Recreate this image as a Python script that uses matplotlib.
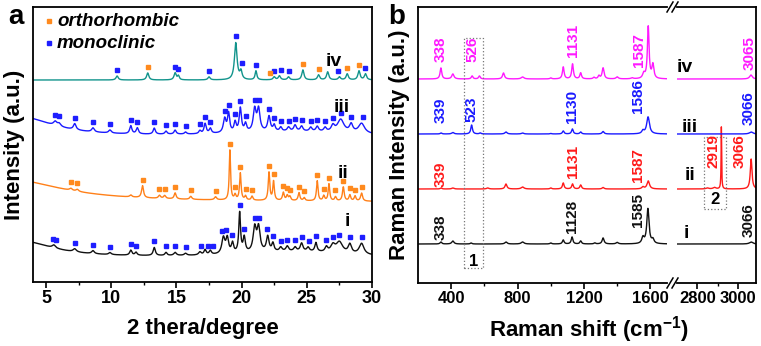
# XRD (a) and Raman (b) figure, four samples i-iv stacked vertically
import numpy as np
import matplotlib
matplotlib.use("Agg")
import matplotlib.pyplot as plt
from matplotlib.lines import Line2D

plt.rcParams["font.family"] = ["Liberation Sans", "DejaVu Sans"]
plt.rcParams["font.weight"] = "bold"
plt.rcParams["axes.labelweight"] = "bold"
plt.rcParams["mathtext.fontset"] = "custom"
plt.rcParams["mathtext.rm"] = "Liberation Sans:bold"
plt.rcParams["mathtext.bf"] = "Liberation Sans:bold"

# ---------------- panel a: XRD peaks (2theta, height, width) ----------------
xrd_i_offset = 24
xrd_i_peaks = [(3.0, 17, 3.0), (24.0, 6, 5.0),
               (5.6, 3, .15), (7.2, 3, .15), (8.6, 3, .12), (9.9, 2, .12), (11.5, 5, .1),
               (11.9, 3, .1), (13.3, 8, .1), (14.2, 3, .1), (14.9, 3, .12), (15.7, 2, .12),
               (16.8, 3, .12), (17.2, 5, .1), (17.6, 4, .1), (18.6, 16, .14), (18.9, 15, .12),
               (19.3, 10, .1), (19.85, 40, .08), (20.2, 15, .1), (21.0, 24, .14), (21.3, 24, .14),
               (22.0, 15, .12), (22.4, 8, .1), (23.0, 4, .12), (23.5, 5, .12), (24.1, 4, .12),
               (24.6, 8, .12), (25.1, 4, .12), (25.7, 9, .1), (26.5, 5, .12), (27.0, 7, .2),
               (27.5, 11, .3), (28.3, 9, .15), (29.2, 11, .22)]

xrd_ii_offset = 80
xrd_ii_peaks = [(2.0, 23, 5.0),
                (6.9, 2, .12), (7.4, 2, .12), (11.5, 2, .1), (12.4, 12, .09), (13.7, 3, .1),
                (14.1, 3, .1), (14.9, 6, .09), (16.1, 3, .1), (18.0, 3, .1), (19.1, 50, .06),
                (19.5, 5, .08), (19.9, 27, .07), (20.3, 4, .08), (20.8, 4, .08), (22.1, 28, .07),
                (22.45, 19, .07), (23.2, 8, .08), (23.5, 5, .08), (23.7, 4, .08), (24.4, 8, .08),
                (24.8, 3, .08), (25.8, 20, .07), (26.3, 5, .08), (26.7, 17, .07), (27.2, 4, .08),
                (27.8, 14, .08), (28.3, 6, .08), (28.7, 5, .08), (29.2, 8, .09)]

xrd_iii_offset = 145
xrd_iii_peaks = [(3.0, 20, 3.0), (24.0, 5, 6.0),
                 (5.7, 4, .15), (6.0, 3, .15), (7.2, 6, .12), (8.6, 4, .12), (9.9, 3, .12),
                 (11.5, 8, .1), (12.0, 6, .1), (13.3, 6, .1), (14.2, 3, .1), (14.9, 4, .1),
                 (15.7, 2, .1), (16.8, 3, .1), (17.2, 10, .1), (17.6, 5, .1), (18.7, 14, .12),
                 (19.0, 19, .1), (19.5, 10, .1), (19.9, 24, .1), (20.3, 8, .1), (21.0, 22, .13),
                 (21.3, 22, .13), (22.1, 15, .12), (22.5, 6, .1), (23.0, 4, .1), (23.6, 4, .12),
                 (24.1, 6, .12), (24.6, 5, .12), (25.3, 4, .12), (25.8, 5, .12), (26.4, 4, .12),
                 (27.0, 6, .15), (27.6, 13, .3), (28.4, 8, .15), (29.2, 10, .28)]

xrd_iv_offset = 202
xrd_iv_peaks = [(10.45, 4, .1), (12.8, 7, .1), (14.9, 7, .1), (15.15, 4, .08), (17.5, 3, .1),
                (19.55, 37, .12), (19.95, 8, .1), (21.1, 9, .08), (22.5, 3, .1), (22.9, 4, .1),
                (23.6, 3, .1), (24.7, 10, .1), (25.9, 5, .1), (26.6, 8, .1), (27.5, 3, .1),
                (28.1, 6, .1), (29.0, 9, .1), (29.5, 6, .1)]

# phase markers (2theta)
xrd_i_mono = [5.5, 5.8, 7.2, 8.6, 9.9, 11.5, 11.9, 13.3, 14.2, 14.9, 15.7, 16.9, 17.4, 17.8,
              18.5, 18.8, 19.3, 19.85, 20.2, 21.0, 21.3, 21.95, 22.4, 23.0, 23.5, 24.1, 24.6,
              25.2, 25.7, 26.5, 27.0, 27.5, 28.3, 29.2]
xrd_ii_ortho = [6.9, 7.4, 12.4, 13.7, 14.1, 14.9, 16.1, 18.0, 19.1, 19.5, 19.9, 20.3, 20.8,
                22.1, 22.45, 23.2, 23.5, 23.7, 24.4, 24.8, 25.8, 26.3, 26.7, 27.2, 27.8, 28.3,
                28.7, 29.2]
xrd_iii_mono = [5.7, 6.0, 7.2, 8.6, 9.9, 11.5, 12.0, 13.3, 14.2, 14.9, 15.7, 16.8, 17.2, 17.6,
                18.7, 19.0, 19.5, 19.9, 20.3, 21.0, 21.3, 22.1, 22.5, 23.0, 23.6, 24.1, 24.6,
                25.3, 25.8, 26.4, 27.0, 27.6, 28.4, 29.3]
xrd_iv_mono = [10.45, 14.9, 15.15, 17.5, 19.55, 20.0, 21.1, 22.5, 23.0, 23.6, 27.4, 29.5]
xrd_iv_ortho = [12.8, 22.2, 24.7, 25.9, 28.1, 29.0]

# ---------------- panel b: Raman peaks (shift, height, width) ----------------
ram_i_offset = 39
ram_i_peaks = [(338, 2, 6), (410, 3, 8), (520, 1, 6), (730, 2, 8), (830, 2, 10), (1000, 1, 6),
               (1075, 4, 6), (1128, 7, 6), (1180, 3, 6), (1265, 1, 6), (1315, 6, 7),
               (1400, 1.5, 8), (1555, 6, 8), (1585, 35, 8), (1615, 4, 8),
               (3066, 2, 10)]
ram_ii_offset = 94
ram_ii_peaks = [(339, 1, 6), (410, 1, 8), (620, 1, 8), (730, 5, 7), (830, 2, 10), (1000, 1, 6),
                (1075, 6, 6), (1131, 5, 6), (1180, 4, 6), (1315, 1.5, 7), (1555, 2, 8),
                (1587, 8, 9),
                (2850, 1, 8), (2885, 1.5, 8), (2919, 62, 1.6), (3066, 30, 5)]
ram_iii_offset = 149
ram_iii_peaks = [(339, 1, 6), (410, 1.5, 8), (523, 9, 6), (575, 1, 6), (730, 2, 8), (830, 1, 8),
                 (1000, .5, 6), (1075, 3, 6), (1130, 5, 6), (1180, 2, 6), (1315, 2.5, 7),
                 (1555, 3, 8), (1586, 17, 10),
                 (3066, 2, 10)]
ram_iv_offset = 204
ram_iv_peaks = [(338, 11, 6), (410, 5, 8), (526, 3, 6), (570, 3, 6), (715, 6, 7), (830, 2, 10),
                (1000, 1, 6), (1075, 12, 6), (1131, 15, 6), (1180, 6, 6), (1260, 1.5, 6),
                (1290, 3, 6), (1315, 11, 7), (1400, 2, 8), (1490, 1, 8), (1560, 5, 8),
                (1587, 52, 6), (1615, 14, 7),
                (3065, 4, 8)]

# peak labels (text, x, bottom of text)
ram_labels_i = [("338", 338, 43), ("1128", 1128, 50), ("1585", 1525, 56), ("3066", 3055, 46)]
ram_labels_ii = [("339", 339, 96), ("1131", 1131, 105), ("1587", 1525, 101),
                 ("2919", 2880, 115), ("3066", 3010, 115)]
ram_labels_iii = [("339", 339, 160), ("523", 523, 161), ("1130", 1130, 160),
                  ("1586", 1525, 170), ("3066", 3055, 158)]
ram_labels_iv = [("338", 338, 221), ("526", 526, 221), ("1131", 1131, 226),
                 ("1587", 1530, 216), ("3065", 3058, 213)]


def profile(x, offset, peaks):
    y = np.full_like(x, float(offset))
    for p, h, w in peaks:
        y += h / (1 + ((x - p) / w) ** 2)
    return y


W, H = 761, 346
fig = plt.figure(figsize=(W / 100, H / 100), dpi=100)


def frame(x0, y0, x1, y1):
    return [x0 / W, 1 - y1 / H, (x1 - x0) / W, (y1 - y0) / H]


def style(ax, size):
    for s in ax.spines.values():
        s.set_linewidth(1.3)
    ax.set_yticks([])
    ax.tick_params(axis="x", which="major", direction="out", length=4, width=1.2,
                   labelsize=size, pad=2)
    ax.tick_params(axis="x", which="minor", direction="out", length=2.5, width=1.0)
    for lab in ax.get_xticklabels():
        lab.set_fontweight("bold")


C_TEAL, C_ORANGE, C_BLUE, C_BLACK = "#12948c", "#ff8019", "#1a1aff", "#111111"
C_MAG, C_RED = "#ff19ff", "#ff1a1a"
M_BLUE, M_ORANGE = "#1e1eff", "#ff8a1e"
MS = 2.2

# ---------------- panel a ----------------
axa = fig.add_axes(frame(33, 7, 372, 282))
axa.set_xlim(4, 30)
axa.set_ylim(0, 275)
axa.set_xticks([5, 10, 15, 20, 25, 30])
axa.set_xticks([7.5, 12.5, 17.5, 22.5, 27.5], minor=True)
style(axa, 13)

x = np.linspace(4, 30, 4000)
curves = [(xrd_i_offset, xrd_i_peaks, C_BLACK, [(xrd_i_mono, M_BLUE)]),
          (xrd_ii_offset, xrd_ii_peaks, C_ORANGE, [(xrd_ii_ortho, M_ORANGE)]),
          (xrd_iii_offset, xrd_iii_peaks, C_BLUE, [(xrd_iii_mono, M_BLUE)]),
          (xrd_iv_offset, xrd_iv_peaks, C_TEAL, [(xrd_iv_mono, M_BLUE), (xrd_iv_ortho, M_ORANGE)])]
for off, pk, col, marks in curves:
    y = profile(x, off, pk)
    axa.plot(x, y, color=col, lw=1.0)
    for pos, mc in marks:
        pos = np.array(pos)
        my = np.array([y[np.abs(x - p) < 0.08].max() for p in pos]) + 6
        axa.plot(pos, my, ls="none", marker="s", ms=MS, color=mc, mec=mc)

for txt, xx, yy in [("iv", 27.1, 220), ("iii", 27.7, 175), ("ii", 27.8, 109), ("i", 28.1, 61)]:
    axa.text(xx, yy, txt, fontsize=14, fontweight="bold", ha="center", va="center")

axa.plot([5.23], [261], ls="none", marker="s", ms=MS, color=M_ORANGE)
axa.plot([5.23], [239], ls="none", marker="s", ms=MS, color=M_BLUE)
axa.text(5.84, 261, "orthorhombic", fontsize=13.5, fontweight="bold", style="italic",
         va="center")
axa.text(5.84, 239, "monoclinic", fontsize=13.5, fontweight="bold", style="italic",
         va="center")

axa.set_xlabel("2 thera/degree", fontsize=16, fontweight="bold", labelpad=8)
axa.set_ylabel("Intensity (a.u.)", fontsize=16, fontweight="bold", labelpad=6)
fig.text(16 / W, 1 - 17 / H, "a", fontsize=20, fontweight="bold", ha="center", va="center")

# ---------------- panel b ----------------
axb1 = fig.add_axes(frame(418, 7, 667, 283))
axb2 = fig.add_axes(frame(677, 7, 756, 283))
axb1.set_xlim(200, 1700)
axb2.set_xlim(2700, 3090)
axb1.set_xticks([400, 800, 1200, 1600])
axb1.set_xticks([600, 1000, 1400], minor=True)
axb2.set_xticks([2800, 3000])
axb2.set_xticks([2900], minor=True)
for ax in (axb1, axb2):
    ax.set_ylim(0, 276)
    style(ax, 12)
axb1.spines["right"].set_visible(False)
axb2.spines["left"].set_visible(False)

xl = np.linspace(200, 1700, 4000)
xr = np.linspace(2700, 3090, 3000)
spectra = [(ram_i_offset, ram_i_peaks, C_BLACK, ram_labels_i),
           (ram_ii_offset, ram_ii_peaks, C_RED, ram_labels_ii),
           (ram_iii_offset, ram_iii_peaks, C_BLUE, ram_labels_iii),
           (ram_iv_offset, ram_iv_peaks, C_MAG, ram_labels_iv)]
for off, pk, col, labels in spectra:
    axb1.plot(xl, profile(xl, off, pk), color=col, lw=1.0)
    axb2.plot(xr, profile(xr, off, pk), color=col, lw=1.0)
    for txt, xx, yy in labels:
        ax = axb1 if xx < 2000 else axb2
        ax.text(xx, yy, txt, rotation=90, fontsize=11, fontweight="bold", color=col,
                ha="center", va="bottom")

for txt, xx, yy in [("iv", 2740, 215), ("iii", 2765, 156), ("ii", 2765, 107), ("i", 2745, 50)]:
    axb2.text(xx, yy, txt, fontsize=14, fontweight="bold", ha="center", va="center")

# dotted boxes
axb1.plot([478, 592, 592, 478, 478], [15, 15, 245, 245, 15], ls=":", color="#777777", lw=0.9)
axb1.text(535, 22, "1", fontsize=12, fontweight="bold", ha="center", va="center")
axb2.plot([2833, 2943, 2943, 2833, 2833], [74, 74, 146, 146, 74], ls=":", color="#777777", lw=0.9)
axb2.text(2888, 83, "2", fontsize=12, fontweight="bold", ha="center", va="center")

# axis break marks
for yb in (7, 283):
    for dx in (0, 5):
        fig.add_artist(Line2D([(667 + dx) / W, (673 + dx) / W],
                              [1 - (yb + 5) / H, 1 - (yb - 5) / H],
                              color="black", lw=1.1))

axb1.set_ylabel("Raman Intensity (a.u.)", fontsize=16, fontweight="bold", labelpad=6)
fig.text(589 / W, 1 - 330 / H, "Raman shift (cm$^{-1}$)", fontsize=16, fontweight="bold",
         ha="center", va="center")
fig.text(397 / W, 1 - 17 / H, "b", fontsize=20, fontweight="bold", ha="center", va="center")

fig.savefig("out.png", dpi=100)
